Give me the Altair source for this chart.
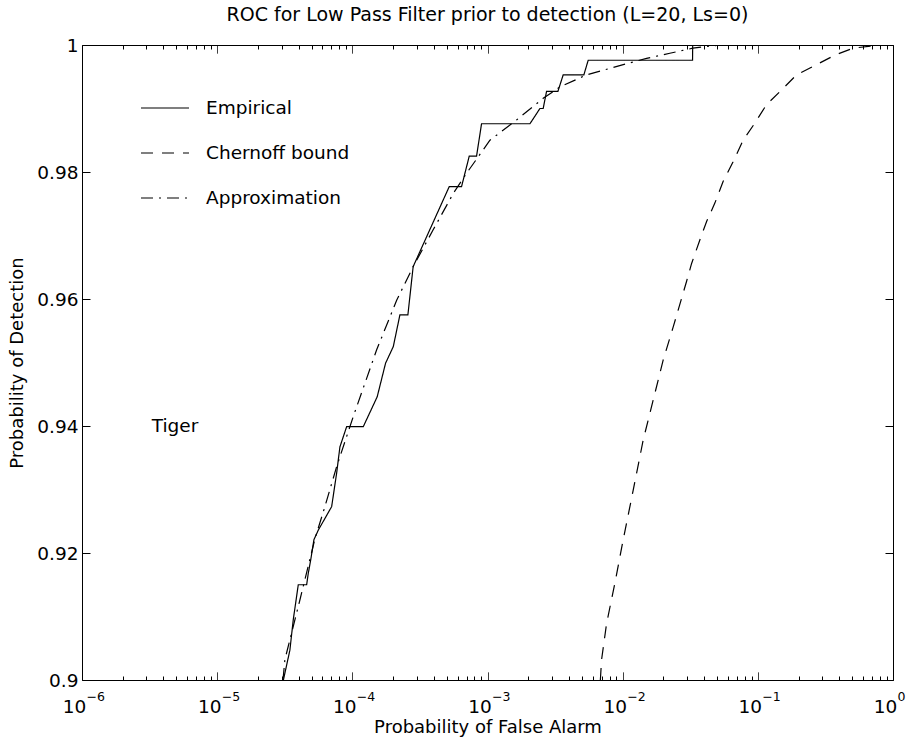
import altair as alt
import pandas as pd

FONT = "DejaVu Sans"
W, H = 811, 635

# ---- data (x as log10 of false-alarm probability) ----
SERIES = ["Empirical", "Chernoff bound", "Approximation"]

EMP_LOGX = [-4.510, -4.462, -4.437, -4.400, -4.338, -4.326, -4.308, -4.284, -4.252,
            -4.153, -4.116, -4.092, -4.042, -3.919, -3.816, -3.754, -3.697, -3.648,
            -3.589, -3.550, -3.283, -3.192, -3.135, -3.081, -3.044, -2.686, -2.612,
            -2.588, -2.563, -2.479, -2.440, -2.287, -2.255, -1.483, -1.482, 0.0]
EMP_PD = [0.9000, 0.9047, 0.9095, 0.9150, 0.9150, 0.9168, 0.9189, 0.9221, 0.9236,
          0.9273, 0.9326, 0.9367, 0.9399, 0.9399, 0.9446, 0.9499, 0.9525, 0.9575,
          0.9575, 0.9651, 0.9777, 0.9777, 0.9825, 0.9825, 0.9876, 0.9876, 0.9900,
          0.9900, 0.9927, 0.9927, 0.9953, 0.9953, 0.9976, 0.9976, 1.0000, 1.0000]

CHER_LOGX = [-2.165, -2.156, -2.119, -2.058, -1.996, -1.922, -1.848, -1.774, -1.700,
             -1.626, -1.527, -1.490, -1.429, -1.379, -1.318, -1.257, -1.183, -1.109,
             -1.022, -0.936, -0.825, -0.714, -0.566, -0.430, -0.295, -0.098, 0.0]
CHER_PD = [0.9000, 0.9032, 0.9089, 0.9152, 0.9221, 0.9299, 0.9378, 0.9441, 0.9504,
           0.9556, 0.9628, 0.9656, 0.9693, 0.9722, 0.9751, 0.9785, 0.9816, 0.9850,
           0.9877, 0.9906, 0.9929, 0.9953, 0.9969, 0.9984, 0.9995, 1.0000, 1.0000]

APPROX_LOGX = [-4.513, -4.499, -4.388, -4.277, -4.203, -4.116, -3.993, -3.820, -3.672,
               -3.550, -3.402, -3.254, -3.155, -2.982, -2.785, -2.588, -2.464, -2.267,
               -1.996, -1.823, -1.651, -1.481, -1.281, 0.0]
APPROX_PD = [0.9000, 0.9032, 0.9126, 0.9222, 0.9273, 0.9336, 0.9415, 0.9520, 0.9598,
             0.9651, 0.9709, 0.9766, 0.9798, 0.9850, 0.9882, 0.9916, 0.9934, 0.9953,
             0.9969, 0.9979, 0.9987, 0.9995, 1.0000, 1.0000]

DASHES = [[1, 0], [12, 9], [12, 6, 2, 6]]

DECADE_EXPONENTS = [-6, -5, -4, -3, -2, -1, 0]
Y_TICKS = [0.90, 0.92, 0.94, 0.96, 0.98, 1.00]

ANNOT_TEXT = ["Tiger"]
ANNOT_PFA = [3.28e-6]
ANNOT_PD = [0.94]

TITLE = "ROC for Low Pass Filter prior to detection (L=20, Ls=0)"

# ---- build table ----
rows = []
for name, lxs, pds in [(SERIES[0], EMP_LOGX, EMP_PD),
                       (SERIES[1], CHER_LOGX, CHER_PD),
                       (SERIES[2], APPROX_LOGX, APPROX_PD)]:
    for i, (lx, p) in enumerate(zip(lxs, pds)):
        rows.append({"series": name, "pfa": 10.0 ** lx, "pd": p, "order": i})
df = pd.DataFrame(rows)
annot = pd.DataFrame({"text": ANNOT_TEXT, "pfa": ANNOT_PFA, "pd": ANNOT_PD})

decade_vals = [10.0 ** e for e in DECADE_EXPONENTS]
tick_vals = [k * 10.0 ** e for e in range(-6, 0) for k in range(1, 10)] + [1.0]
MAJOR = "abs(log(datum.value)/LN10 - round(log(datum.value)/LN10)) < 0.001"
tick_dash = {"condition": {"test": MAJOR, "value": [1, 0]}, "value": [4, 100]}

x_scale = alt.Scale(type="log", domain=[1e-6, 1.0], nice=False)
y_scale = alt.Scale(domain=[0.9, 1.0], nice=False, zero=False)

common = dict(grid=False, domain=False, labelColor="black", tickColor="black",
              labelFont=FONT, titleFont=FONT, titleColor="black",
              titleFontWeight="normal", labelOverlap=False, labelFlush=False,
              labelBound=False)

# layer 1: data lines, main labels and titles
lines = alt.Chart(df).mark_line(color="black", strokeWidth=1.2, clip=True).encode(
    x=alt.X("pfa:Q", scale=x_scale, axis=alt.Axis(
        orient="bottom", values=decade_vals, labelExpr="'10'", ticks=False, tickSize=0,
        labelFontSize=18.5, labelPadding=17, labelOffset=-8, labelAlign="center",
        labelBaseline="top", title="Probability of False Alarm", titleFontSize=18,
        titlePadding=3, **common)),
    y=alt.Y("pd:Q", scale=y_scale, axis=alt.Axis(
        orient="left", values=Y_TICKS, format="~g", ticks=False, tickSize=0,
        labelFontSize=18.5, labelPadding=4, labelBaseline="middle",
        title="Probability of Detection", titleFontSize=18, titlePadding=10, **common)),
    strokeDash=alt.StrokeDash("series:N", scale=alt.Scale(domain=SERIES, range=DASHES),
        legend=alt.Legend(orient="none", legendX=58, legendY=38, title=None,
                          symbolType="stroke", symbolSize=2304, symbolStrokeWidth=1.2,
                          symbolStrokeColor="black", labelFont=FONT, labelFontSize=18.5,
                          labelColor="black", labelOffset=16, rowPadding=10,
                          padding=0, direction="vertical")),
    order="order:Q",
)

# layer 2: exponents of bottom labels + inward ticks on left edge
l2 = alt.Chart(df).mark_line(opacity=0).encode(
    x=alt.X("pfa:Q", scale=x_scale, axis=alt.Axis(
        orient="bottom", values=decade_vals, ticks=False, tickSize=0,
        labelExpr="(round(log(datum.value)/LN10) < 0 ? '\u2212' : '') + abs(round(log(datum.value)/LN10))",
        labelFontSize=12.5, labelPadding=10, labelOffset=4, labelAlign="left",
        labelBaseline="top", title=None, **common)),
    y=alt.Y("pd:Q", scale=y_scale, axis=alt.Axis(
        orient="right", offset=-W, values=Y_TICKS, labels=False, ticks=True,
        tickSize=8, title=None, **common)),
    detail="series:N",
)

# layer 3: inward ticks on bottom edge + right edge
l3 = alt.Chart(df).mark_line(opacity=0).encode(
    x=alt.X("pfa:Q", scale=x_scale, axis=alt.Axis(
        orient="top", offset=-H, values=tick_vals, labels=False, ticks=True,
        tickSize=8, tickDash=tick_dash, title=None, **common)),
    y=alt.Y("pd:Q", scale=y_scale, axis=alt.Axis(
        orient="left", offset=-W, values=Y_TICKS, labels=False, ticks=True,
        tickSize=8, title=None, **common)),
    detail="series:N",
)

# layer 4: inward ticks on top edge
l4 = alt.Chart(df).mark_line(opacity=0).encode(
    x=alt.X("pfa:Q", scale=x_scale, axis=alt.Axis(
        orient="bottom", offset=-H, values=tick_vals, labels=False, ticks=True,
        tickSize=8, tickDash=tick_dash, title=None, **common)),
    y=alt.Y("pd:Q", scale=y_scale, axis=None),
    detail="series:N",
)

# layer 5: annotation
txt = alt.Chart(annot).mark_text(align="left", baseline="middle", font=FONT,
                                 fontSize=18.5, color="black").encode(
    x=alt.X("pfa:Q", scale=x_scale, axis=None),
    y=alt.Y("pd:Q", scale=y_scale, axis=None),
    text="text:N",
)

chart = alt.layer(lines, l2, l3, l4, txt).resolve_axis(
    x="independent", y="independent"
).properties(
    width=W, height=H,
    padding={"left": 82, "top": 45, "right": 19, "bottom": 62},
    autosize=alt.AutoSizeParams(type="none"),
    background="white",
    title=alt.TitleParams(TITLE, font=FONT, fontSize=19, fontWeight="normal",
                          color="black", anchor="middle", baseline="alphabetic",
                          offset=20, dy=24),
).configure_view(stroke="black", strokeWidth=1)

chart.save("out.html", embed_options={"renderer": "svg", "actions": False})
